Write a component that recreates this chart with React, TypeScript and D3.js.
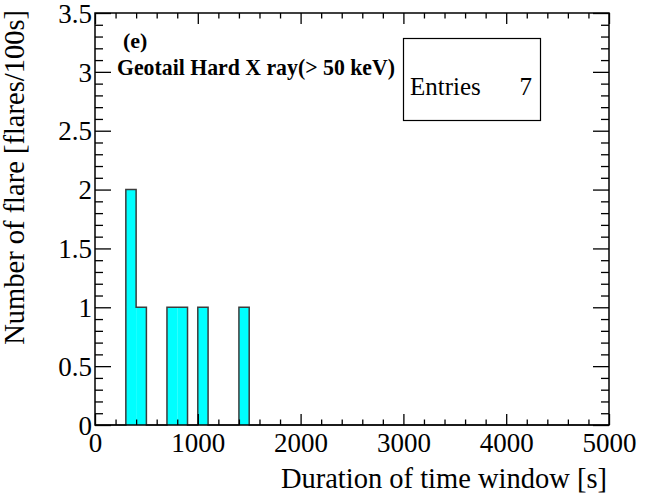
import React, { useEffect, useRef } from "react";
import * as d3 from "d3";

// histogram: 50 bins of 100 s from 0 to 5000, only the filled ones listed
const binLowEdges = [300, 400, 700, 800, 1000, 1400];
const binCounts = [2, 1, 1, 1, 1, 1];
const binWidth = 100;
const xRange = [0, 5000];
const yRange = [0, 3.5];
const xTickLabels = ["0", "1000", "2000", "3000", "4000", "5000"];
const yTickLabels = ["0", "0.5", "1", "1.5", "2", "2.5", "3", "3.5"];
const entries = 7;

const width = 665;
const height = 499;
const margin = { top: 13, right: 56, bottom: 74, left: 95 };

const font = "Liberation Serif, Times New Roman, serif";

const App = () => {
  const ref: any = useRef(null);

  useEffect(() => {
    const root = d3.select(ref.current);
    root.selectAll("*").remove();

    const svg = root
      .append("svg")
      .attr("viewBox", `0 0 ${width} ${height}`)
      .attr("width", width)
      .attr("height", height)
      .attr("font-family", font)
      .style("position", "absolute")
      .style("left", "0px")
      .style("top", "0px")
      .style("background", "#fff");

    const w = width - margin.left - margin.right;
    const h = height - margin.top - margin.bottom;

    const ctr = svg
      .append("g")
      .attr("transform", `translate(${margin.left},${margin.top})`);

    const xScale = d3.scaleLinear().domain(xRange).range([0, w]);
    const yScale = d3.scaleLinear().domain(yRange).range([h, 0]);

    // full bin list
    const nBins = (xRange[1] - xRange[0]) / binWidth;
    const counts = d3.range(nBins).map((i) => {
      const lo = xRange[0] + i * binWidth;
      const k = binLowEdges.indexOf(lo);
      return k >= 0 ? binCounts[k] : 0;
    });

    // filled bars
    ctr
      .selectAll("rect.bin")
      .data(binLowEdges)
      .join("rect")
      .attr("class", "bin")
      .attr("x", (d) => xScale(d))
      .attr("width", (d) => xScale(d + binWidth) - xScale(d))
      .attr("y", (d, i) => yScale(binCounts[i]))
      .attr("height", (d, i) => yScale(0) - yScale(binCounts[i]))
      .attr("fill", "#00ffff");

    // outline as a step line
    const pts: [number, number][] = [];
    counts.forEach((c, i) => {
      const lo = xRange[0] + i * binWidth;
      pts.push([lo, c]);
      pts.push([lo + binWidth, c]);
    });
    const step = d3
      .line()
      .x((d: any) => xScale(d[0]))
      .y((d: any) => yScale(d[1]));
    ctr
      .append("path")
      .datum([[xRange[0], 0], ...pts, [xRange[1], 0]])
      .attr("d", step as any)
      .attr("fill", "none")
      .attr("stroke", "#3c3c3c")
      .attr("stroke-width", 1.5);

    // ticks
    const xMajor = xTickLabels.map(Number);
    const xMinor = d3.range(xRange[0], xRange[1] + 1, 200).filter((v) => v % 1000 !== 0);
    const yMajor = yTickLabels.map(Number);
    const yMinor = d3.range(0, 35).map((v) => v / 10).filter((v) => Math.round(v * 10) % 5 !== 0);

    const styleAxis = (g: any) => {
      g.select(".domain").remove();
      g.attr("font-family", null);
      g.selectAll("line").attr("stroke", "#000").attr("stroke-width", 1.3);
    };

    ctr
      .append("g")
      .attr("transform", `translate(0,${h})`)
      .call(d3.axisBottom(xScale).tickValues(xMinor).tickSize(-5.5).tickFormat(() => ""))
      .call(styleAxis);
    ctr
      .append("g")
      .call(d3.axisTop(xScale).tickValues(xMinor).tickSize(-5.5).tickFormat(() => ""))
      .call(styleAxis);
    ctr
      .append("g")
      .call(d3.axisTop(xScale).tickValues(xMajor).tickSize(-11).tickFormat(() => ""))
      .call(styleAxis);
    const xAxis = ctr
      .append("g")
      .attr("transform", `translate(0,${h})`)
      .call(
        d3
          .axisBottom(xScale)
          .tickValues(xMajor)
          .tickSize(-11)
          .tickFormat((d: any, i: number) => xTickLabels[i])
      )
      .call(styleAxis);
    xAxis
      .selectAll("text")
      .attr("y", 27)
      .attr("dy", null)
      .attr("fill", "#000")
      .attr("font-size", 27);

    ctr
      .append("g")
      .call(d3.axisLeft(yScale).tickValues(yMinor).tickSize(-8).tickFormat(() => ""))
      .call(styleAxis);
    ctr
      .append("g")
      .attr("transform", `translate(${w},0)`)
      .call(d3.axisRight(yScale).tickValues(yMinor).tickSize(-8).tickFormat(() => ""))
      .call(styleAxis);
    ctr
      .append("g")
      .attr("transform", `translate(${w},0)`)
      .call(d3.axisRight(yScale).tickValues(yMajor).tickSize(-16).tickFormat(() => ""))
      .call(styleAxis);
    const yAxis = ctr
      .append("g")
      .call(
        d3
          .axisLeft(yScale)
          .tickValues(yMajor)
          .tickSize(-16)
          .tickPadding(3)
          .tickFormat((d: any, i: number) => yTickLabels[i])
      )
      .call(styleAxis);
    yAxis
      .selectAll("text")
      .attr("dy", "0.34em")
      .attr("fill", "#000")
      .attr("font-size", 27);

    // frame
    ctr
      .append("rect")
      .attr("width", w)
      .attr("height", h)
      .attr("fill", "none")
      .attr("stroke", "#000")
      .attr("stroke-width", 1.5);

    // axis titles
    svg
      .append("text")
      .attr("x", 607)
      .attr("y", 488)
      .attr("text-anchor", "end")
      .attr("font-size", 28.5)
      .text("Duration of time window [s]");

    svg
      .append("text")
      .attr("transform", "translate(24,10) rotate(-90)")
      .attr("text-anchor", "end")
      .attr("font-size", 28.5)
      .text("Number of flare [flares/100s]");

    // labels inside the pad
    svg
      .append("text")
      .attr("x", 123)
      .attr("y", 48)
      .attr("font-size", 22)
      .attr("font-weight", "bold")
      .text("(e)");

    svg
      .append("text")
      .attr("x", 117)
      .attr("y", 75)
      .attr("textLength", 278)
      .attr("lengthAdjust", "spacingAndGlyphs")
      .attr("font-size", 23)
      .attr("font-weight", "bold")
      .text("Geotail Hard X ray(> 50 keV)");

    // stats box
    svg
      .append("rect")
      .attr("x", 403.5)
      .attr("y", 38.5)
      .attr("width", 137)
      .attr("height", 82)
      .attr("fill", "#fff")
      .attr("stroke", "#000")
      .attr("stroke-width", 1.2);
    svg
      .append("text")
      .attr("x", 410)
      .attr("y", 95)
      .attr("font-size", 25)
      .text("Entries");
    svg
      .append("text")
      .attr("x", 532)
      .attr("y", 95)
      .attr("text-anchor", "end")
      .attr("font-size", 25)
      .text(String(entries));
  }, []);

  return <div id="chart" ref={ref}></div>;
};

export default App;
